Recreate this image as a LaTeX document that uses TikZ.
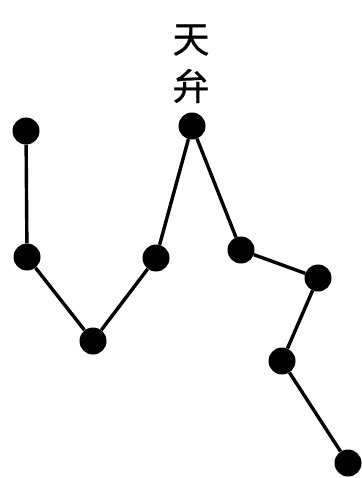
\documentclass[tikz,border=0pt]{standalone}
\usepackage{fontspec}
\newfontfamily\cjk[FakeBold=0.7]{Noto Sans CJK SC}
\begin{document}
\begin{tikzpicture}[x=1pt,y=-1pt,
  star/.style={circle,fill=black,inner sep=0pt,minimum size=27pt},
  link/.style={line width=3.4pt,black},
  lbl/.style={font=\cjk\fontsize{37}{37}\selectfont,inner sep=0pt}]
\useasboundingbox (0,0) rectangle (361,478);
\node[star] (a) at (26,131) {};
\node[star] (b) at (27,257) {};
\node[star] (c) at (93,341) {};
\node[star] (d) at (156,258) {};
\node[star] (e) at (192,126) {};
\node[star] (f) at (241,250) {};
\node[star] (g) at (318,278) {};
\node[star] (h) at (282,361) {};
\node[star] (i) at (348,463) {};
\node[lbl] (t1) at (191,40) {天};
\node[lbl] (t2) at (191,86) {弁};
\draw[link] (a) -- (b) -- (c) -- (d) -- (e) -- (f) -- (g) -- (h) -- (i);
\end{tikzpicture}
\end{document}
